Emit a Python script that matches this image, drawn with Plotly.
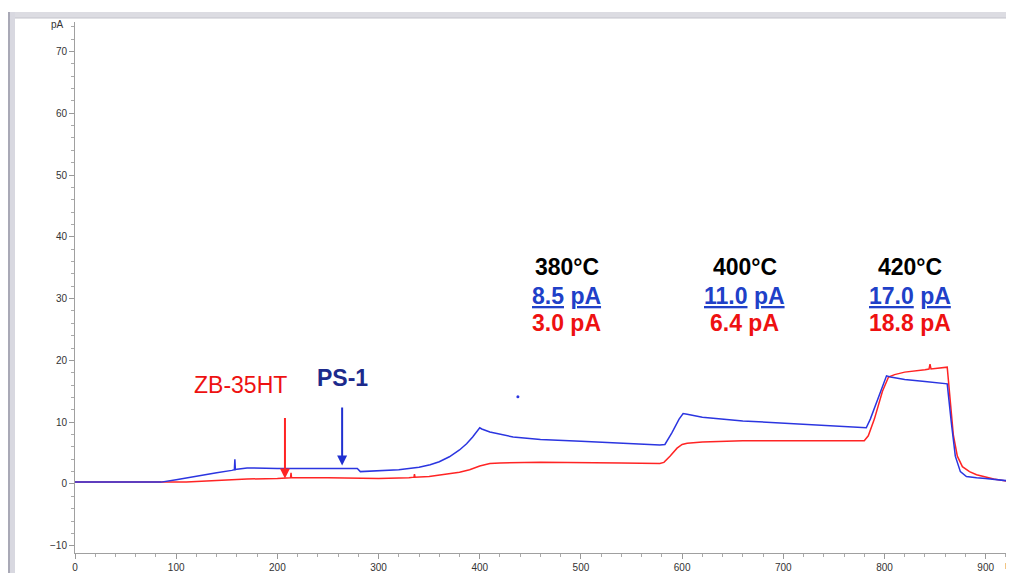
import plotly.graph_objects as go

# ---- data (time in min, signal in pA) ----
blue_t = [0, 85, 100, 120, 140, 155, 157.5, 158, 158.5, 160, 170, 200, 230, 260, 275, 279,
          282, 300, 320, 340, 351, 360, 370, 380, 387, 393, 398, 400, 402, 410, 433, 460, 500, 538,
          578, 583, 590, 597, 601, 605, 620, 660, 700, 740, 782, 786, 795, 802, 806, 820,
          840, 860, 862, 866, 870, 875, 881, 891, 900, 928]
blue_y = [0.3, 0.3, 0.7, 1.2, 1.8, 2.2, 2.3, 4.0, 2.3, 2.4, 2.6, 2.5, 2.5, 2.6, 2.5, 2.5,
          2.0, 2.1, 2.3, 2.7, 3.1, 3.6, 4.4, 5.5, 6.5, 7.6, 8.6, 9.1, 8.9, 8.4, 7.6, 7.2, 6.9, 6.6,
          6.3, 6.4, 8.3, 10.5, 11.4, 11.3, 10.8, 10.2, 9.8, 9.5, 9.1, 10.5, 14.5, 17.5, 17.3, 16.9,
          16.6, 16.3, 16.2, 10.0, 4.5, 2.0, 1.2, 1.0, 0.9, 0.4]

red_t = [0, 110, 130, 150, 170, 200, 210, 213, 213.5, 214, 250, 300, 330, 335, 335.5, 336,
         350, 380, 390, 400, 410, 420, 460, 500, 540, 578, 582, 588, 595, 600, 605, 620,
         660, 700, 740, 780, 784, 790, 798, 804, 810, 820, 840, 844, 845, 846, 862, 864,
         868, 872, 877, 884, 891, 908, 928]
red_y = [0.3, 0.3, 0.5, 0.7, 0.8, 0.9, 1.0, 1.0, 1.8, 1.0, 1.0, 0.9, 1.0, 1.1, 1.6, 1.1,
         1.2, 1.9, 2.3, 2.9, 3.3, 3.4, 3.5, 3.5, 3.4, 3.3, 3.5, 4.5, 5.8, 6.4, 6.6, 6.8,
         7.0, 7.0, 7.0, 7.0, 7.8, 10.5, 15.0, 17.3, 17.7, 18.1, 18.5, 18.6, 19.4, 18.6, 18.9, 15.0,
         8.0, 4.5, 2.8, 2.0, 1.5, 0.8, 0.3]

glitch_t = [437.7]
glitch_y = [14.1]

temps = ["380°C", "400°C", "420°C"]
temp_x = [486, 662, 825]
blue_vals = ["8.5", "11.0", "17.0"]
red_vals = ["3.0", "6.4", "18.8"]

y_ticks = [-10, 0, 10, 20, 30, 40, 50, 60, 70]
x_ticks = [0, 100, 200, 300, 400, 500, 600, 700, 800, 900]

BLUE = "#2b35e0"
RED = "#ff2424"
BLUE_TXT = "#2040c8"
RED_TXT = "#ee1111"
NAVY = "#1c2a8c"

# page body has an 8px margin: figure is shifted by 8px, so sizes compensate
PW, PH = 939, 531   # plot area in pixels


def px(xp):   # page x pixel -> paper x
    return (xp - 75) / PW


def py(yp):   # page y pixel -> paper y
    return (553 - yp) / PH


fig = go.Figure()
fig.add_trace(go.Scatter(x=red_t, y=red_y, mode="lines",
                         line=dict(color=RED, width=1.5), showlegend=False))
fig.add_trace(go.Scatter(x=blue_t, y=blue_y, mode="lines",
                         line=dict(color=BLUE, width=1.5), showlegend=False))
fig.add_trace(go.Scatter(x=glitch_t, y=glitch_y, mode="markers",
                         marker=dict(color=BLUE, size=3), showlegend=False))

ann = []
for i in range(3):
    ann.append(dict(x=temp_x[i], y=35.1, xref="x", yref="y", text="<b>%s</b>" % temps[i],
                    showarrow=False, font=dict(size=23, color="black", family="Arial")))
    ann.append(dict(x=temp_x[i], y=30.4, xref="x", yref="y",
                    text="<b><u>%s</u> <u>pA</u></b>" % blue_vals[i],
                    showarrow=False, font=dict(size=23, color=BLUE_TXT, family="Arial")))
    ann.append(dict(x=temp_x[i], y=26.0, xref="x", yref="y",
                    text="<b>%s pA</b>" % red_vals[i],
                    showarrow=False, font=dict(size=23, color=RED_TXT, family="Arial")))

ann.append(dict(x=164, y=16.0, xref="x", yref="y", text="ZB-35HT", showarrow=False,
                font=dict(size=23, color=RED_TXT, family="Arial")))
ann.append(dict(x=264, y=17.2, xref="x", yref="y", text="<b>PS-1</b>", showarrow=False,
                font=dict(size=23, color=NAVY, family="Arial")))
# arrows
ann.append(dict(x=207.5, y=0.9, ax=207.5, ay=10.9, xref="x", yref="y", axref="x", ayref="y",
                text="", showarrow=True, arrowhead=2, arrowsize=1, arrowwidth=2, arrowcolor=RED))
ann.append(dict(x=264, y=3.0, ax=264, ay=12.6, xref="x", yref="y", axref="x", ayref="y",
                text="", showarrow=True, arrowhead=2, arrowsize=1, arrowwidth=2, arrowcolor="#2030d0"))
# axis unit labels
ann.append(dict(x=px(66), y=74.3, xref="paper", yref="y", text="pA", showarrow=False,
                xanchor="right", font=dict(size=10, color="#333", family="Arial")))
ann.append(dict(x=px(1003), y=py(565), xref="paper", yref="paper", text="min",
                showarrow=False, xanchor="left", yanchor="middle",
                font=dict(size=11, color="#333", family="Arial")))

shapes = [
    dict(type="rect", xref="paper", yref="paper", x0=px(8), x1=px(1014),
         y0=py(18), y1=py(12), fillcolor="#dcdce2", line=dict(width=0)),
    dict(type="rect", xref="paper", yref="paper", x0=px(8), x1=px(15),
         y0=py(573), y1=py(12), fillcolor="#d8d8e0", line=dict(width=0)),
    dict(type="line", xref="paper", yref="paper", x0=px(9), x1=px(9),
         y0=py(573), y1=py(12), line=dict(color="#9a9aa8", width=1.5)),
    dict(type="line", xref="paper", yref="paper", x0=px(15), x1=px(1014),
         y0=py(18), y1=py(18), line=dict(color="#c4c4cc", width=1)),
]

fig.update_layout(
    width=1006, height=565,
    margin=dict(l=67, r=0, t=14, b=20),
    plot_bgcolor="white", paper_bgcolor="white",
    annotations=ann, shapes=shapes,
    font=dict(family="Arial", color="#333"),
)
fig.update_xaxes(range=[0, 928], tickvals=x_ticks, ticks="outside", ticklen=5,
                 tickcolor="#999", showline=True, linecolor="#a0a0a0", linewidth=1,
                 showgrid=False, zeroline=False, tickfont=dict(size=10, color="#333"),
                 minor=dict(dtick=20, tick0=0, ticks="outside", ticklen=3, tickcolor="#aaa"))
fig.update_yaxes(range=[-11.17, 74.76], tickvals=y_ticks, ticks="outside", ticklen=5,
                 tickcolor="#999", showline=True, linecolor="#a0a0a0", linewidth=1,
                 showgrid=False, zeroline=False, tickfont=dict(size=10, color="#333"),
                 minor=dict(dtick=2, tick0=0, ticks="outside", ticklen=3, tickcolor="#aaa"))

fig.write_html("out.html")
